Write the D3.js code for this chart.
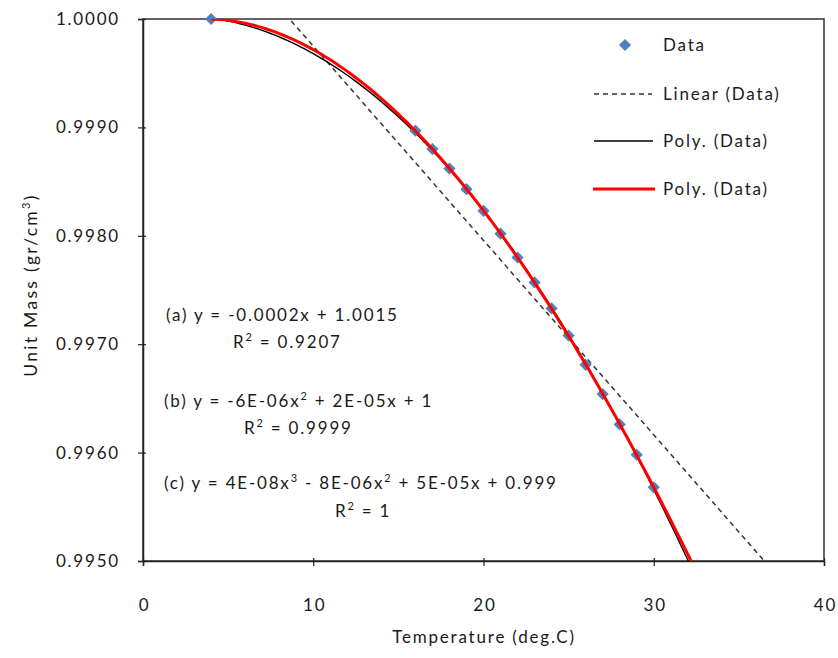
<!DOCTYPE html>
<html>
<head>
<meta charset="utf-8">
<script src="https://cdn.jsdelivr.net/npm/d3@7"></script>
<style>
  html, body { margin: 0; padding: 0; background: #fff; }
  svg { display: block; }
  text { font-family: Lato, "Open Sans", "Liberation Sans", sans-serif; fill: #1a1a1a; letter-spacing: 1.8px; }
</style>
</head>
<body>
<svg id="chart" width="838" height="658"></svg>
<script>
// ---- data ----
const temperature = [4, 16, 17, 18, 19, 20, 21, 22, 23, 24, 25, 26, 27, 28, 29, 30];
const unitMass = [1.0000, 0.99897, 0.99880, 0.99862, 0.99843, 0.99823, 0.99802, 0.99780,
                  0.99757, 0.99733, 0.99708, 0.99681, 0.99654, 0.99626, 0.99598, 0.99568];
const xTicks = [0, 10, 20, 30, 40];
const yTicks = [0.9950, 0.9960, 0.9970, 0.9980, 0.9990, 1.0000];
const legendLabels = ["Data", "Linear (Data)", "Poly. (Data)", "Poly. (Data)"];
const equationLines = [
  ["(a) y = -0.0002x + 1.0015", "R² = 0.9207"],
  ["(b) y = -6E-06x² + 2E-05x + 1", "R² = 0.9999"],
  ["(c) y = 4E-08x³ - 8E-06x² + 5E-05x + 0.999", "R² = 1"]
];

// ---- layout ----
const pL = 143, pT = 19, pR = 824, pB = 561;
const FS = "17px";
const svg = d3.select("#chart");
const x = d3.scaleLinear().domain([0, 40]).range([pL, pR]);
const y = d3.scaleLinear().domain([0.995, 1.0]).range([pB, pT]);

// least-squares polynomial fit (as the spreadsheet trendlines do)
function polyfit(xs, ys, order) {
  const xm = d3.mean(xs), ym = d3.mean(ys);
  const n = order + 1;
  const A = Array.from({length: n}, () => new Array(n + 1).fill(0));
  xs.forEach((xv, k) => {
    const t = xv - xm, yv = (ys[k] - ym) * 1e4;
    for (let i = 0; i < n; i++) {
      for (let j = 0; j < n; j++) A[i][j] += Math.pow(t, i + j);
      A[i][n] += Math.pow(t, i) * yv;
    }
  });
  for (let c = 0; c < n; c++) {
    let p = c;
    for (let r = c + 1; r < n; r++) if (Math.abs(A[r][c]) > Math.abs(A[p][c])) p = r;
    [A[c], A[p]] = [A[p], A[c]];
    for (let r = 0; r < n; r++) {
      if (r === c) continue;
      const f = A[r][c] / A[c][c];
      for (let k = c; k <= n; k++) A[r][k] -= f * A[c][k];
    }
  }
  const coef = A.map((row, i) => row[n] / row[i]);
  return xv => {
    const t = xv - xm;
    let s = 0;
    coef.forEach((c, i) => s += c * Math.pow(t, i));
    return ym + s / 1e4;
  };
}

// clip
svg.append("defs").append("clipPath").attr("id", "plotclip")
  .append("rect").attr("x", pL).attr("y", pT).attr("width", pR - pL).attr("height", pB - pT);

// plot border
svg.append("rect").attr("x", pL).attr("y", pT).attr("width", pR - pL).attr("height", pB - pT)
  .attr("fill", "none").attr("stroke", "#333").attr("stroke-width", 1.5);

// axes
const yAxis = d3.axisLeft(y).tickValues(yTicks).tickFormat(d3.format(".4f")).tickSize(5).tickPadding(18);
const gy = svg.append("g").attr("transform", `translate(${pL},0)`).call(yAxis);
const xAxis = d3.axisBottom(x).tickValues(xTicks).tickFormat(d3.format("d")).tickSize(5).tickPadding(33);
const gx = svg.append("g").attr("transform", `translate(0,${pB})`).call(xAxis);
[gy, gx].forEach(g => {
  g.select(".domain").attr("stroke", "#222").attr("stroke-width", 1.5);
  g.selectAll(".tick line").attr("stroke", "#222").attr("stroke-width", 1.2);
  g.selectAll(".tick text").style("font-size", FS).attr("fill", "#222")
    .style("font-family", "Lato, 'Open Sans', sans-serif");
});
gx.selectAll(".tick line").attr("y1", -3);
gx.selectAll(".tick text").attr("dx", "1px");
gy.selectAll(".tick line").attr("x1", 3).attr("x2", -5);

// axis titles
svg.append("text").attr("x", 484).attr("y", 643).attr("text-anchor", "middle")
  .style("font-size", FS).text("Temperature (deg.C)");
const yt = svg.append("text").attr("transform", "translate(37,285) rotate(-90)")
  .attr("text-anchor", "middle").style("font-size", "17.5px").style("letter-spacing", "2.3px");
yt.append("tspan").text("Unit Mass (gr/cm");
yt.append("tspan").attr("dy", -7).style("font-size", "11px").text("3");
yt.append("tspan").attr("dy", 7).text(")");

// trendlines
const plot = svg.append("g").attr("clip-path", "url(#plotclip)");
const lin = polyfit(temperature, unitMass, 1);
const quad = polyfit(temperature, unitMass, 2);
const cub = polyfit(temperature, unitMass, 3);
const line = d3.line().x(d => x(d[0])).y(d => y(d[1]));
const xsLin = d3.range(0, 40.01, 0.5);
const xsPoly = d3.range(4, 40.01, 0.25);

plot.append("path").datum(xsLin.map(v => [v, lin(v)])).attr("d", line)
  .attr("fill", "none").attr("stroke", "#333").attr("stroke-width", 1.5).attr("stroke-dasharray", "5,4");
plot.append("path").datum(xsPoly.map(v => [v, quad(v)])).attr("d", line)
  .attr("fill", "none").attr("stroke", "#000").attr("stroke-width", 1.4);

// data points
const diamond = d3.symbol().type(d3.symbolDiamond2).size(95);
svg.append("g").selectAll("path").data(temperature).join("path")
  .attr("d", diamond)
  .attr("transform", (d, i) => `translate(${x(d)},${y(unitMass[i])})`)
  .attr("fill", "#4f81bd");
// cubic trendline drawn over the points, as in the reference
const plot2 = svg.append("g").attr("clip-path", "url(#plotclip)");
plot2.append("path").datum(xsPoly.map(v => [v, cub(v)])).attr("d", line)
  .attr("fill", "none").attr("stroke", "#ff0000").attr("stroke-width", 3);

// legend
const lg = svg.append("g");
const lgY = [45, 94, 141, 189];
lg.append("path").attr("d", diamond).attr("transform", `translate(625,${lgY[0]})`).attr("fill", "#4f81bd");
lg.append("line").attr("x1", 594).attr("x2", 652).attr("y1", lgY[1]).attr("y2", lgY[1])
  .attr("stroke", "#333").attr("stroke-width", 1.5).attr("stroke-dasharray", "5,4");
lg.append("line").attr("x1", 594).attr("x2", 653).attr("y1", lgY[2]).attr("y2", lgY[2])
  .attr("stroke", "#000").attr("stroke-width", 1.5);
lg.append("line").attr("x1", 593).attr("x2", 655).attr("y1", lgY[3]).attr("y2", lgY[3])
  .attr("stroke", "#ff0000").attr("stroke-width", 3);
lg.selectAll("text").data(legendLabels).join("text")
  .attr("x", 663).attr("y", (d, i) => lgY[i]).attr("dy", "0.35em")
  .style("font-size", FS).text(d => d);

// equations
const eqPos = [
  [[166, 321], [233, 348]],
  [[164, 407], [244, 434]],
  [[164, 489], [335, 517]]
];
function writeEq(t, str) {
  const parts = str.split(/([²³])/);
  let lift = 0;
  parts.forEach(p => {
    if (p === "²" || p === "³") {
      t.append("tspan").attr("dy", -7).style("font-size", "11px").text(p === "²" ? "2" : "3");
      lift = 7;
    } else if (p.length) {
      t.append("tspan").attr("dy", lift).text(p);
      lift = 0;
    }
  });
}
equationLines.forEach((pair, i) => {
  pair.forEach((str, j) => {
    const t = svg.append("text").attr("x", eqPos[i][j][0]).attr("y", eqPos[i][j][1])
      .attr("dy", "0.35em").style("font-size", FS);
    writeEq(t, str);
  });
});
</script>
</body>
</html>
